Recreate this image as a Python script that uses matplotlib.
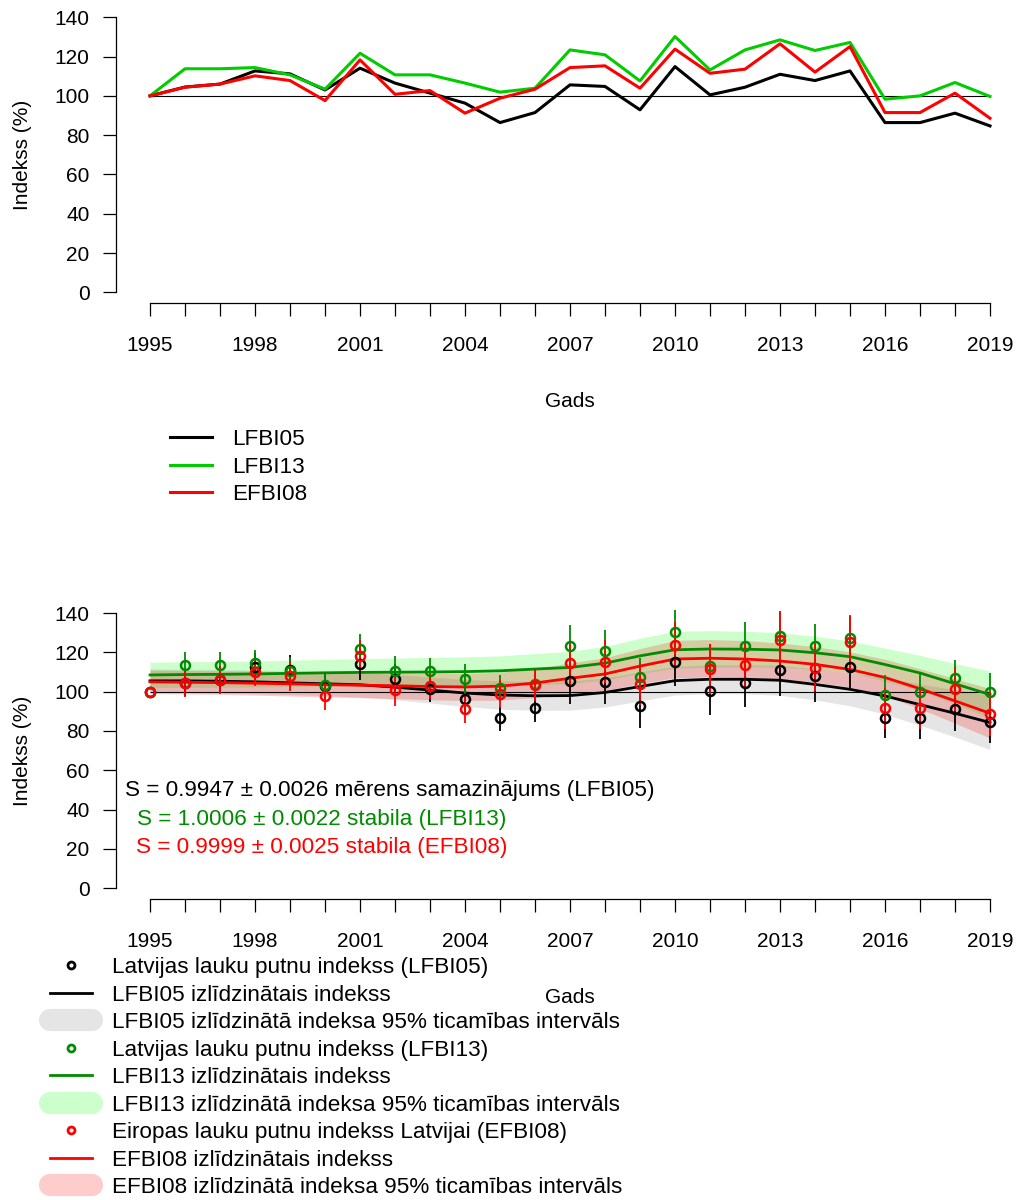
import numpy as np
import matplotlib
matplotlib.use("Agg")
from matplotlib import pyplot as plt
from matplotlib.lines import Line2D

plt.rcParams['font.family'] = ['Liberation Sans', 'DejaVu Sans']

# =============================================================================
# Data
# =============================================================================
years = np.arange(1995, 2020)

lfbi05 = [100, 104.5, 106, 112.7, 111.2, 103, 114.1, 106.5, 101.4, 96.3,
          86.4, 91.5, 105.6, 104.8, 92.9, 114.9, 100.5, 104.4, 111, 107.8,
          112.7, 86.4, 86.4, 91.2, 84.7]
lfbi13 = [100, 113.8, 113.8, 114.4, 110.7, 103.4, 121.7, 110.7, 110.7, 106.5,
          101.9, 103.9, 123.4, 120.9, 107.6, 130.2, 113.2, 123.4, 128.5, 123.1,
          127.2, 98.3, 100, 106.8, 99.7]
efbi08 = [100, 104.4, 106, 110.2, 107.8, 97.6, 118.3, 100.8, 102.7, 91.2,
          98.8, 103.4, 114.4, 115.3, 103.9, 123.8, 111.5, 113.6, 126.5, 112.1,
          125.1, 91.5, 91.5, 101.4, 88.6]

# standard error bars (half length)
err05 = [0, 6.5, 6.5, 7, 7.5, 7, 8, 7.5, 6.5, 7, 6.5, 7, 12, 11, 11.5, 12,
         12.5, 12, 13, 13, 11, 10, 10.5, 11, 11]
err13 = [0, 6.6, 6.5, 7, 7, 6.5, 7.4, 7.3, 6.5, 7.7, 6.5, 7, 10.6, 10.5, 9.7,
         11.3, 11, 12, 12, 11.4, 12, 10, 9.7, 9.5, 10]
err08 = [0, 7, 7, 7.5, 7.3, 7, 8, 8, 6.5, 7, 7, 8, 11, 11, 10.5, 11.5, 12.7,
         12, 14.5, 12, 13.5, 10.5, 10.5, 11, 11]

# smoothed indices
smooth05 = [105.5, 105.5, 105.3, 105, 104.5, 104, 103.5, 102.3, 100.8, 99.3,
            98.3, 97.9, 98, 99.6, 102.6, 105.6, 106.3, 106.3, 105.8, 103.7,
            101.2, 97.8, 93.4, 89, 84.3]
smooth13 = [108.5, 108.7, 108.8, 109, 109.3, 109.6, 109.8, 109.9, 110, 110.2,
            110.6, 111.5, 112.3, 114.5, 118.2, 121.3, 121.7, 121.6, 121.2,
            119.8, 117.8, 113.8, 109.5, 104, 98.5]
smooth08 = [105, 104.8, 104.6, 104.3, 104, 103.6, 103.3, 103, 102.6, 102.4,
            102.8, 104.4, 106.8, 109, 113, 116.6, 117, 116.6, 115.6, 113.9,
            111.3, 107.2, 101.5, 95.3, 89]

# 95% confidence interval half widths of the smoothed indices
ci05 = [6, 6, 6, 6, 6, 6, 6.2, 6.4, 6.6, 6.9, 7.2, 7.4, 7.4, 7.4, 7.4, 7.3,
        7.3, 7.4, 7.6, 7.9, 8.4, 9.3, 10.5, 12, 13.8]
ci13 = [6.5, 6.5, 6.6, 6.6, 6.7, 6.8, 7, 7.2, 7.4, 7.5, 7.6, 7.9, 8.2, 8.5,
        9, 9.4, 9.3, 9.1, 8.8, 8.4, 8, 8.4, 9, 10.3, 12]
ci08 = [6, 6, 6, 6.1, 6.2, 6.3, 6.4, 6.5, 6.7, 6.9, 7.1, 7.4, 7.8, 8.3, 8.9,
        9.5, 9.5, 9.4, 9.2, 9, 8.9, 9.3, 10.2, 11.3, 12.6]

trend_texts = ["S = 0.9947 \u00b1 0.0026 m\u0113rens samazin\u0101jums (LFBI05)",
               "S = 1.0006 \u00b1 0.0022 stabila (LFBI13)",
               "S = 0.9999 \u00b1 0.0025 stabila (EFBI08)"]

# =============================================================================
# Figure
# =============================================================================
W, H = 1017, 1200
FS = 15      # axis text
FS_L = 16.2  # legend and trend text
fig = plt.figure(figsize=(W / 100, H / 100), dpi=100)


def r_axes(ax):
    ax.set_xlim(1994.04, 2019.96)
    ax.set_ylim(-5.6, 145.6)
    for s in ['top', 'right']:
        ax.spines[s].set_visible(False)
    for s in ['left', 'bottom']:
        ax.spines[s].set_linewidth(0.9)
    ax.spines['left'].set_bounds(0, 140)
    ax.spines['bottom'].set_bounds(years[0], years[-1])
    ax.set_xticks(years)
    ax.set_xticklabels([str(y) if (y - years[0]) % 3 == 0 else ''
                        for y in years])
    ax.set_yticks(np.arange(0, 141, 20))
    ax.tick_params(axis='both', direction='out', length=9.4, width=0.9,
                   labelsize=FS)
    ax.tick_params(axis='x', pad=14)
    ax.tick_params(axis='y', pad=10)
    ax.set_xlabel('Gads', fontsize=FS, labelpad=27)
    ax.set_ylabel('Indekss (%)', fontsize=FS, labelpad=16)


# --- top: raw indices --------------------------------------------------------
ax1 = fig.add_axes([116.4 / W, 1 - 303.3 / H, 907.2 / W, 297 / H])
r_axes(ax1)
ax1.hlines(100, years[0], years[-1], color='k', lw=0.8)
ax1.plot(years, lfbi05, color='k', lw=2.2)
ax1.plot(years, lfbi13, color='#00CC00', lw=2.2)
ax1.plot(years, efbi08, color='#FF0000', lw=2.2)

h_top = [Line2D([], [], color=c, lw=2.2) for c in ['k', '#00CC00', '#FF0000']]
fig.legend(h_top, ['LFBI05', 'LFBI13', 'EFBI08'], loc='upper left',
           bbox_to_anchor=(170 / W, 1 - 429 / H), frameon=False, fontsize=FS_L,
           handlelength=1.86, handletextpad=0.88, labelspacing=0.29,
           borderpad=0, borderaxespad=0)

# --- bottom: indices with smoothing -----------------------------------------
ax2 = fig.add_axes([116.4 / W, 1 - 899.3 / H, 907.2 / W, 297.3 / H])
r_axes(ax2)

green = '#008B00'
series = [(lfbi05, err05, smooth05, ci05, 'k', '#808080'),
          (lfbi13, err13, smooth13, ci13, green, '#00FF00'),
          (efbi08, err08, smooth08, ci08, '#FF0000', '#FF0000')]

for vals, err, sm, ci, col, band in series:
    sm = np.array(sm)
    ci = np.array(ci)
    ax2.fill_between(years, sm - ci, sm + ci, color=band, alpha=0.2, lw=0)
ax2.hlines(100, years[0], years[-1], color='k', lw=0.8)
for vals, err, sm, ci, col, band in series:
    ax2.plot(years, sm, color=col, lw=2)
for vals, err, sm, ci, col, band in series:
    ax2.errorbar(years, vals, yerr=err, fmt='o', mfc='none', mec=col,
                 ecolor=col, elinewidth=1.3, ms=6.5, mew=1.8, capsize=0)

for txt, col, xx, yy in zip(trend_texts, ['k', green, '#FF0000'],
                            [0.0095, 0.0227, 0.0216], [0.365, 0.270, 0.175]):
    ax2.text(xx, yy, txt, color=col, fontsize=FS_L, ha='left', va='center',
             transform=ax2.transAxes)

h_bot = []
labels_bot = []
names = [('Latvijas lauku putnu indekss (LFBI05)', 'LFBI05'),
         ('Latvijas lauku putnu indekss (LFBI13)', 'LFBI13'),
         ('Eiropas lauku putnu indekss Latvijai (EFBI08)', 'EFBI08')]
for (long_name, short), (_, _, _, _, col, band) in zip(names, series):
    h_bot.append(Line2D([], [], ls='none', marker='o', mfc='none', mec=col,
                        ms=5, mew=2))
    h_bot.append(Line2D([], [], color=col, lw=2))
    h_bot.append(Line2D([], [], color=band, alpha=0.2, lw=16,
                        solid_capstyle='round'))
    labels_bot += [long_name,
                   '{} izl\u012bdzin\u0101tais indekss'.format(short),
                   '{} izl\u012bdzin\u0101t\u0101 indeksa 95% ticam\u012bbas interv\u0101ls'.format(short)]

fig.legend(h_bot, labels_bot, loc='upper left',
           bbox_to_anchor=(50 / W, 1 - 957 / H), frameon=False, fontsize=FS_L,
           handlelength=1.86, handletextpad=0.88, labelspacing=0.29,
           borderpad=0, borderaxespad=0)

fig.savefig('out.png', dpi=100)
